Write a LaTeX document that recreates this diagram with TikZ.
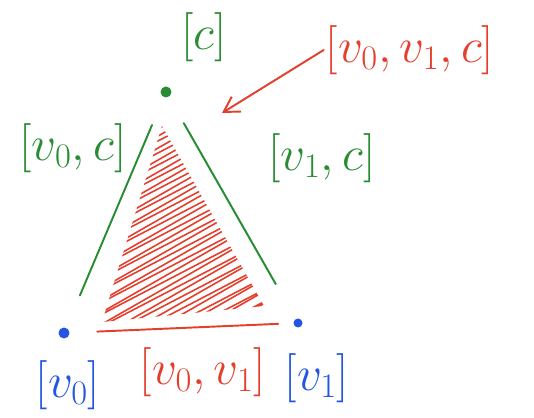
\RequirePackage{fix-cm}
\documentclass[tikz,border=0pt]{standalone}
\usepackage{xcolor}
\usepackage{amsmath}
\usepackage{tikz}
\usetikzlibrary{positioning,arrows.meta}
\definecolor{penGreen}{RGB}{40,140,50}
\definecolor{penRed}{RGB}{228,62,45}
\definecolor{penBlue}{RGB}{35,85,225}
\tikzset{
    vertexdot/.style={
        circle, fill, inner sep=0pt, minimum size=2.2mm
    },
    simplexlabel/.style={
        font=\fontsize{28}{32}\selectfont, inner sep=1pt
    },
    edgeline/.style={
        line width=1.1pt, line cap=round
    },
    hatch/.style={
        penRed, line width=0.9pt, line join=round
    }
}

\begin{document}
\begin{tikzpicture}[x=0.02cm, y=-0.02cm]
    \useasboundingbox (0,0) rectangle (534,418);
    % Vertices
    \node[vertexdot, penGreen] (c)  at (166,92)  {};
    \node[vertexdot, penBlue]  (v0) at (64,333)  {};
    \node[vertexdot, penBlue, minimum size=1.8mm] (v1) at (298,323) {};
    % Filled 2-simplex
    \begin{scope}
        \clip (162,126) -- (102,322) -- (264,306) -- cycle;
        \draw[hatch] (60,120) \foreach \k in {0,...,25} {
            -- (300,{120+12*\k-125}) -- (60,{120+12*\k+12})
        };
    \end{scope}
    % Edges
    \draw[edgeline, penGreen, shorten <=6mm, shorten >=7mm] (c) -- (v0);
    \draw[edgeline, penGreen, shorten <=6mm, shorten >=8mm] (c) -- (v1);
    \draw[edgeline, penRed, shorten <=5.5mm, shorten >=3mm] (v0) -- (v1);
    % Labels
    \node[simplexlabel, text=penGreen] (lc)    at (204,37)  {$[c]$};
    \node[simplexlabel, text=penRed]   (lv0v1c) at (410,50) {$[v_0,v_1,c]$};
    \node[simplexlabel, text=penGreen] (lv0c)  at (73,148)  {$[v_0,c]$};
    \node[simplexlabel, text=penGreen] (lv1c)  at (322,158) {$[v_1,c]$};
    \node[simplexlabel, text=penBlue]  (lv0)   at (68,385)  {$[v_0]$};
    \node[simplexlabel, text=penRed]   (lv0v1) at (203,372) {$[v_0,v_1]$};
    \node[simplexlabel, text=penBlue]  (lv1)   at (317,378) {$[v_1]$};
    % Pointer to the 2-simplex
    \coordinate (tip) at (222,113);
    \draw[edgeline, penRed, -{Straight Barb[length=3mm, width=3.5mm]}]
        (lv0v1c.west) -- (tip);
\end{tikzpicture}
\end{document}
